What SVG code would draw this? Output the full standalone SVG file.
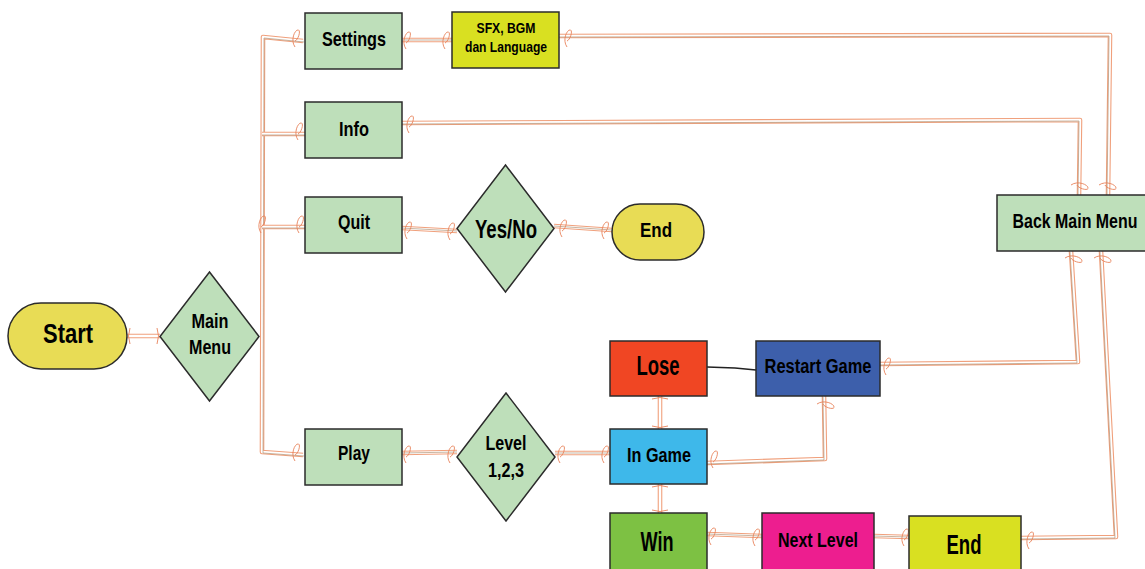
<svg xmlns="http://www.w3.org/2000/svg" xmlns:xlink="http://www.w3.org/1999/xlink" width="1145" height="569" viewBox="0 0 1145 569">
<style>
.t{font-family:"Liberation Sans",Arial,sans-serif;font-weight:bold;fill:#000;text-anchor:middle}
.nd{stroke:#2b2b2b;stroke-width:1.5}
.g{fill:#bedfba}
.o{fill:none;stroke:#f0a07c;stroke-width:4.6;stroke-linejoin:round}
.i{fill:none;stroke:#fff;stroke-width:2.4;stroke-linejoin:round}
.b{fill:none;stroke:#a88c6e;stroke-width:0.8;opacity:0.8}
.curl{fill:none;stroke:#e8825a;stroke-width:0.9}
</style>
<defs>
<path id="cv" d="M-1,9 C-6,2 -1,-9 2.5,-8 C5,-7 2,2 -1,3"/>
<path id="p1" d="M127,336 L160,336"/>
<path id="p2" d="M303,41 L263,37 L262,452 L303,455"/>
<path id="p3" d="M262,134 L305,134"/>
<path id="p4" d="M262,227 L305,227"/>
<path id="p5" d="M402,40 L452,40"/>
<path id="p6" d="M559,36 L1110,35 L1108,195"/>
<path id="p7" d="M402,123 L1080,120 L1079,195"/>
<path id="p8" d="M402,228 L457,231"/>
<path id="p9" d="M554,226 L612,230"/>
<path id="p10" d="M402,453 L457,452"/>
<path id="p11" d="M555,453 L610,453"/>
<path id="p12" d="M660,396 L660,429"/>
<path id="p13" d="M660,484 L660,513"/>
<path id="p14" d="M707,463 L825,459 L824,396"/>
<path id="p15" d="M880,364 L1078,362 L1071,251"/>
<path id="p16" d="M1021,538 L1116,537 L1101,251"/>
<path id="p17" d="M707,534 L762,536"/>
<path id="p18" d="M874,536 L909,537"/>
</defs>
<rect width="1145" height="569" fill="#fff"/>
<g id="connectors">
<use xlink:href="#p1" class="o"/><use xlink:href="#p1" class="i"/>
<use xlink:href="#p2" class="o"/><use xlink:href="#p2" class="i"/><use xlink:href="#p2" class="b" transform="translate(1,1)"/>
<use xlink:href="#p3" class="o"/><use xlink:href="#p3" class="i"/><use xlink:href="#p3" class="b" transform="translate(0,1)"/>
<use xlink:href="#p4" class="o"/><use xlink:href="#p4" class="i"/><use xlink:href="#p4" class="b" transform="translate(0,1)"/>
<use xlink:href="#p5" class="o"/><use xlink:href="#p5" class="i"/><use xlink:href="#p5" class="b"/>
<use xlink:href="#p6" class="o"/><use xlink:href="#p6" class="i"/><use xlink:href="#p6" class="b" transform="translate(-1,1)"/>
<use xlink:href="#p7" class="o"/><use xlink:href="#p7" class="i"/><use xlink:href="#p7" class="b" transform="translate(-1,1)"/>
<use xlink:href="#p8" class="o"/><use xlink:href="#p8" class="i"/><use xlink:href="#p8" class="b"/>
<use xlink:href="#p9" class="o"/><use xlink:href="#p9" class="i"/><use xlink:href="#p9" class="b"/>
<use xlink:href="#p10" class="o"/><use xlink:href="#p10" class="i"/><use xlink:href="#p10" class="b"/>
<use xlink:href="#p11" class="o"/><use xlink:href="#p11" class="i"/><use xlink:href="#p11" class="b"/>
<use xlink:href="#p12" class="o"/><use xlink:href="#p12" class="i"/>
<use xlink:href="#p13" class="o"/><use xlink:href="#p13" class="i"/>
<use xlink:href="#p14" class="o"/><use xlink:href="#p14" class="i"/><use xlink:href="#p14" class="b" transform="translate(-1,1)"/>
<use xlink:href="#p15" class="o"/><use xlink:href="#p15" class="i"/><use xlink:href="#p15" class="b" transform="translate(-1,1)"/>
<use xlink:href="#p16" class="o"/><use xlink:href="#p16" class="i"/><use xlink:href="#p16" class="b" transform="translate(-1,1)"/>
<use xlink:href="#p17" class="o"/><use xlink:href="#p17" class="i"/><use xlink:href="#p17" class="b"/>
<use xlink:href="#p18" class="o"/><use xlink:href="#p18" class="i"/><use xlink:href="#p18" class="b"/>
<path d="M707,367 L735,368 L756,370" fill="none" stroke="#222" stroke-width="1.5"/>
<g class="curl">
<path d="M130,328 Q127,336 130,344 M157,328 Q160,336 157,344"/>
<use xlink:href="#cv" x="296" y="38"/>
<use xlink:href="#cv" x="299" y="131"/>
<use xlink:href="#cv" x="262" y="224"/>
<use xlink:href="#cv" x="300" y="224"/>
<use xlink:href="#cv" x="296" y="452"/>
<use xlink:href="#cv" x="407" y="40"/>
<use xlink:href="#cv" x="446" y="40"/>
<use xlink:href="#cv" x="568" y="38"/>
<use xlink:href="#cv" x="410" y="124"/>
<use xlink:href="#cv" x="408" y="230"/>
<use xlink:href="#cv" x="451" y="231"/>
<use xlink:href="#cv" x="563" y="228"/>
<use xlink:href="#cv" x="605" y="230"/>
<use xlink:href="#cv" x="407" y="454"/>
<use xlink:href="#cv" x="451" y="454"/>
<use xlink:href="#cv" x="561" y="454"/>
<use xlink:href="#cv" x="605" y="454"/>
<use xlink:href="#cv" x="714" y="459"/>
<use xlink:href="#cv" x="887" y="366"/>
<use xlink:href="#cv" x="1030" y="540"/>
<use xlink:href="#cv" x="712" y="536"/>
<use xlink:href="#cv" x="756" y="537"/>
<use xlink:href="#cv" x="905" y="537"/>
<use xlink:href="#cv" x="1080" y="186" transform="rotate(90 1080 186)"/>
<use xlink:href="#cv" x="1108" y="186" transform="rotate(90 1108 186)"/>
<use xlink:href="#cv" x="1074" y="259" transform="rotate(90 1074 259)"/>
<use xlink:href="#cv" x="1103" y="259" transform="rotate(90 1103 259)"/>
<use xlink:href="#cv" x="826" y="405" transform="rotate(90 826 405)"/>
<path d="M652,399 Q660,396 668,399 M652,426 Q660,429 668,426 M652,487 Q660,484 668,487 M652,510 Q660,513 668,510"/>
</g>
</g>
<g id="start"><rect class="nd" x="8" y="303" width="119" height="66" rx="33" fill="#e8dc55"/><text class="t" x="68" y="343" font-size="28" textLength="50" lengthAdjust="spacingAndGlyphs">Start</text></g>
<g id="mainmenu"><polygon class="nd g" points="209.5,272 259,336.5 209.5,401 160,336.5"/><text class="t" x="210" y="328" font-size="20" textLength="37" lengthAdjust="spacingAndGlyphs">Main</text><text class="t" x="210" y="354" font-size="20" textLength="42" lengthAdjust="spacingAndGlyphs">Menu</text></g>
<g id="settings"><rect class="nd g" x="305" y="13" width="97" height="56"/><text class="t" x="354" y="46" font-size="21" textLength="64" lengthAdjust="spacingAndGlyphs">Settings</text></g>
<g id="sfx"><rect class="nd" x="452" y="12" width="107" height="56" fill="#d9e021"/><text class="t" x="506" y="33" font-size="14" textLength="59" lengthAdjust="spacingAndGlyphs">SFX, BGM</text><text class="t" x="506" y="52" font-size="14" textLength="82" lengthAdjust="spacingAndGlyphs">dan Language</text></g>
<g id="info"><rect class="nd g" x="305" y="102" width="97" height="56"/><text class="t" x="354" y="136" font-size="21" textLength="30" lengthAdjust="spacingAndGlyphs">Info</text></g>
<g id="quit"><rect class="nd g" x="305" y="197" width="97" height="56"/><text class="t" x="354" y="229" font-size="20" textLength="32" lengthAdjust="spacingAndGlyphs">Quit</text></g>
<g id="yesno"><polygon class="nd g" points="505.5,165 554,228.5 505.5,292 457,228.5"/><text class="t" x="506" y="238" font-size="26" textLength="62" lengthAdjust="spacingAndGlyphs">Yes/No</text></g>
<g id="end1"><rect class="nd" x="612" y="204" width="92" height="56" rx="28" fill="#e8dc55"/><text class="t" x="656" y="237" font-size="20" textLength="32" lengthAdjust="spacingAndGlyphs">End</text></g>
<g id="play"><rect class="nd g" x="305" y="429" width="97" height="56"/><text class="t" x="354" y="460" font-size="21" textLength="32" lengthAdjust="spacingAndGlyphs">Play</text></g>
<g id="level"><polygon class="nd g" points="506,393 555,457 506,521 457,457"/><text class="t" x="506" y="450" font-size="20" textLength="41" lengthAdjust="spacingAndGlyphs">Level</text><text class="t" x="506" y="477" font-size="20" textLength="36" lengthAdjust="spacingAndGlyphs">1,2,3</text></g>
<g id="lose"><rect class="nd" x="610" y="341" width="97" height="55" fill="#f04623"/><text class="t" x="658" y="375" font-size="27" textLength="43" lengthAdjust="spacingAndGlyphs">Lose</text></g>
<g id="restart"><rect class="nd" x="756" y="341" width="124" height="55" fill="#3d5fab"/><text class="t" x="818" y="373" font-size="20" textLength="107" lengthAdjust="spacingAndGlyphs">Restart Game</text></g>
<g id="ingame"><rect class="nd" x="610" y="429" width="97" height="55" fill="#3eb8ea"/><text class="t" x="659" y="462" font-size="20" textLength="64" lengthAdjust="spacingAndGlyphs">In Game</text></g>
<g id="win"><rect class="nd" x="610" y="513" width="97" height="60" fill="#7dc143"/><text class="t" x="657" y="551" font-size="28" textLength="33" lengthAdjust="spacingAndGlyphs">Win</text></g>
<g id="nextlevel"><rect class="nd" x="762" y="513" width="112" height="60" fill="#ed1e8f"/><text class="t" x="818" y="547" font-size="20" textLength="80" lengthAdjust="spacingAndGlyphs">Next Level</text></g>
<g id="end2"><rect class="nd" x="909" y="516" width="112" height="60" fill="#d9e021"/><text class="t" x="964" y="554" font-size="28" textLength="35" lengthAdjust="spacingAndGlyphs">End</text></g>
<g id="backmain"><rect class="nd g" x="997" y="195" width="155" height="56"/><text class="t" transform="translate(1075,228) scale(0.76,1)" x="0" y="0" font-size="21">Back Main Menu</text></g>
</svg>
